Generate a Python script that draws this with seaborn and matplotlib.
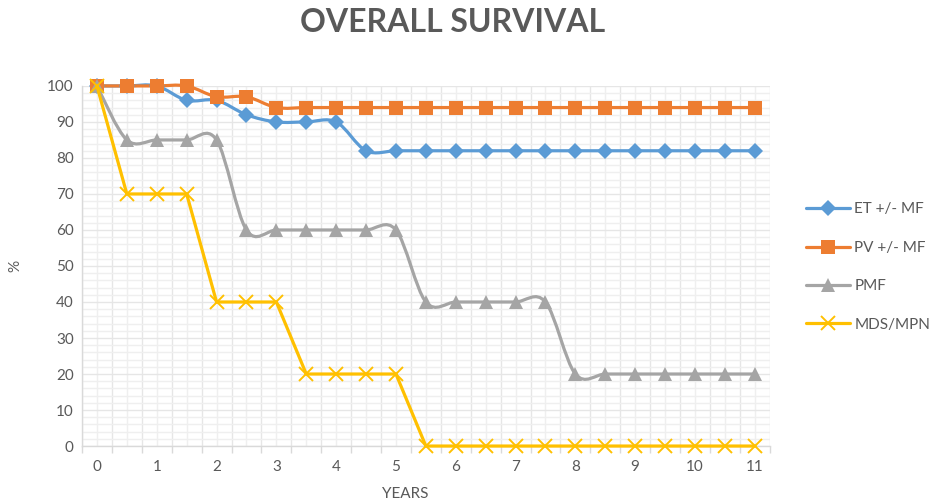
import numpy as np
import matplotlib
matplotlib.use("Agg")
import matplotlib.pyplot as plt
import seaborn as sns
from matplotlib.path import Path
from matplotlib.patches import PathPatch
from matplotlib.lines import Line2D
from matplotlib.ticker import MultipleLocator, FixedLocator, FuncFormatter

# survival (%) at every half year, 0 .. 11
years = [0, 0.5, 1, 1.5, 2, 2.5, 3, 3.5, 4, 4.5, 5, 5.5, 6, 6.5, 7, 7.5, 8, 8.5, 9, 9.5, 10, 10.5, 11]
et_mf = [100, 100, 100, 96, 96, 92, 90, 90, 90, 82, 82, 82, 82, 82, 82, 82, 82, 82, 82, 82, 82, 82, 82]
pv_mf = [100, 100, 100, 100, 97, 97, 94, 94, 94, 94, 94, 94, 94, 94, 94, 94, 94, 94, 94, 94, 94, 94, 94]
pmf = [100, 85, 85, 85, 85, 60, 60, 60, 60, 60, 60, 40, 40, 40, 40, 40, 20, 20, 20, 20, 20, 20, 20]
mds_mpn = [100, 70, 70, 70, 40, 40, 40, 20, 20, 20, 20, 0, 0, 0, 0, 0, 0, 0, 0, 0, 0, 0, 0]

series_names = ["ET +/- MF", "PV +/- MF", "PMF", "MDS/MPN"]
series_vals = [et_mf, pv_mf, pmf, mds_mpn]
colors = ["#5B9BD5", "#ED7D31", "#A5A5A5", "#FFC000"]
markers = ["D", "s", "^", "x"]
msizes = [8, 10, 10, 10]
smoothed = [True, True, True, False]

sns.set_style("white")
plt.rcParams['font.family'] = ['Lato', 'DejaVu Sans']
txt = "#595959"


def smooth_path(x, y):
    # Excel-like smoothed line: cubic Bezier segments through the points
    pts = np.column_stack([x, y]).astype(float)
    n = len(pts)
    verts = [pts[0]]
    codes = [Path.MOVETO]
    for i in range(n - 1):
        p0 = pts[max(i - 1, 0)]
        p1 = pts[i]
        p2 = pts[i + 1]
        p3 = pts[min(i + 2, n - 1)]
        verts += [p1 + (p2 - p0) / 6, p2 - (p3 - p1) / 6, p2]
        codes += [Path.CURVE4] * 3
    return Path(verts, codes)


fig = plt.figure(figsize=(9.37, 5.04), dpi=100)
ax = fig.add_axes([0.0875, 0.115, 0.734, 0.7145])

handles = []
for name, vals, c, m, ms, sm in zip(series_names, series_vals, colors, markers, msizes, smoothed):
    if sm:
        ax.add_patch(PathPatch(smooth_path(years, vals), facecolor="none", edgecolor=c,
                               lw=2.3, capstyle="round", joinstyle="round", zorder=3,
                               clip_on=False))
        ls = "none"
    else:
        ls = "-"
    mew = 1.4 if m == "x" else 0
    sns.lineplot(x=years, y=vals, ax=ax, color=c, marker=m, linestyle=ls, lw=2.3,
                 markersize=ms, markeredgewidth=mew, markeredgecolor=c,
                 markerfacecolor=c, zorder=4, clip_on=False)
    handles.append(Line2D([], [], color=c, lw=2.3, marker=m, markersize=ms,
                          markeredgewidth=mew, markerfacecolor=c, markeredgecolor=c))

ax.set_xlim(-0.25, 11.25)
ax.set_ylim(0, 100)

# x: ticks at category boundaries, labels at whole years
ax.xaxis.set_major_locator(FixedLocator(np.arange(-0.25, 11.3, 0.5)))
ax.xaxis.set_major_formatter(FuncFormatter(lambda v, p: ""))
ax.xaxis.set_minor_locator(FixedLocator(years))
ax.xaxis.set_minor_formatter(FuncFormatter(lambda v, p: f"{int(round(v))}" if abs(v - round(v)) < 1e-6 else ""))
ax.tick_params(axis="x", which="major", length=5, width=1, color="#D9D9D9", direction="out", bottom=True)
ax.tick_params(axis="x", which="minor", length=0, pad=10, labelsize=11, labelcolor=txt, bottom=True)

ax.yaxis.set_major_locator(MultipleLocator(10))
ax.yaxis.set_minor_locator(MultipleLocator(2))
ax.tick_params(axis="y", which="both", length=0, pad=6, labelsize=11, labelcolor=txt)

ax.grid(True, which="major", color="#E6E6E6", lw=1, zorder=0)
ax.grid(True, which="minor", color="#EFEFEF", lw=1, zorder=0)
ax.set_axisbelow(True)

for s in ["top", "right"]:
    ax.spines[s].set_visible(False)
for s in ["left", "bottom"]:
    ax.spines[s].set_color("#D9D9D9")
    ax.spines[s].set_linewidth(1)

ax.set_xlabel("YEARS", fontsize=11, color=txt)
ax.xaxis.set_label_coords(0.47, -0.115)
ax.set_ylabel("%", fontsize=11, color=txt)
ax.yaxis.set_label_coords(-0.087, 0.5)

fig.text(0.483, 0.955, "OVERALL SURVIVAL", ha="center", va="center",
         fontsize=23, fontweight="bold", color=txt)

fig.legend(handles, series_names, loc="center left", bbox_to_anchor=(0.845, 0.47),
           frameon=False, fontsize=11, labelcolor=txt, handlelength=2.9,
           handletextpad=0.3, labelspacing=1.6)

fig.savefig("out.png", dpi=100)
